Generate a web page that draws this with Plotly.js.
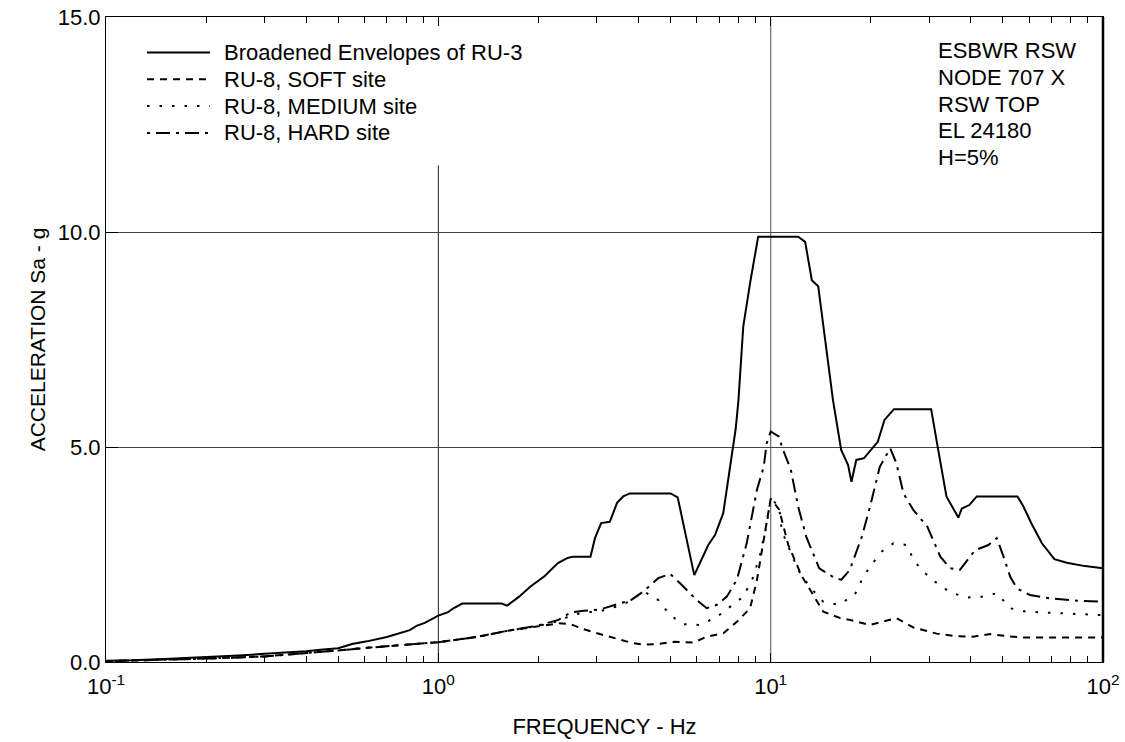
<!DOCTYPE html>
<html><head><meta charset="utf-8">
<script src="https://cdn.plot.ly/plotly-3.0.1.min.js"></script>
<style>html,body{margin:0;padding:0;background:#fff}#chart{width:1125px;height:742px}</style>
</head><body><div id="chart"></div>
<script>
// Series names
const seriesNames = ["Broadened Envelopes of RU-3", "RU-8, SOFT site", "RU-8, MEDIUM site", "RU-8, HARD site"];

// Broadened envelope of RU-3 (solid)
const ru3Freq = [0.1,0.12,0.15,0.2,0.25,0.3,0.35,0.4,0.45,0.5,0.55,0.61,0.7,0.78,0.82,0.86,0.91,1.0,1.07,1.11,1.18,1.55,1.61,1.75,1.89,2.09,2.29,2.45,2.54,2.87,2.96,3.09,3.28,3.45,3.6,3.77,5.0,5.25,5.89,6.49,6.8,7.2,7.5,7.85,8.0,8.27,8.67,9.17,12.1,12.7,13.3,13.9,15.4,16.3,17.1,17.5,18.1,19.1,21.0,22.0,23.5,30.4,31.8,33.8,36.7,37.6,39.6,41.7,55.3,57.5,60.9,65.5,71.4,77.8,88.3,100];
const ru3Acc = [0.03,0.04,0.07,0.11,0.15,0.19,0.22,0.25,0.29,0.32,0.42,0.48,0.58,0.68,0.74,0.84,0.91,1.08,1.16,1.25,1.36,1.36,1.31,1.52,1.75,2.00,2.30,2.42,2.45,2.45,2.88,3.23,3.26,3.70,3.85,3.92,3.92,3.83,2.02,2.72,2.95,3.46,4.43,5.43,6.09,7.80,8.81,9.89,9.89,9.77,8.88,8.74,6.09,4.93,4.58,4.19,4.70,4.74,5.12,5.63,5.88,5.88,5.01,3.85,3.36,3.57,3.65,3.85,3.85,3.63,3.22,2.76,2.39,2.31,2.23,2.18];

// RU-8 soft site (dashed)
const softFreq = [0.1,0.15,0.2,0.3,0.4,0.5,0.61,0.8,1.0,1.3,1.6,2.0,2.3,2.5,2.74,3.06,3.4,3.8,4.14,4.6,5.13,5.85,6.43,7.21,7.93,8.67,9.09,9.54,10.0,10.6,11.3,12.4,13.3,14.4,16.2,17.3,19.9,22.9,23.9,26.9,31.6,36.3,40.7,45.8,51.4,57.7,100];
const softAcc = [0.02,0.05,0.08,0.13,0.20,0.27,0.33,0.40,0.46,0.58,0.72,0.83,0.90,0.88,0.76,0.65,0.55,0.45,0.40,0.42,0.47,0.45,0.59,0.67,0.94,1.25,1.90,2.84,3.80,3.55,2.72,2.00,1.60,1.17,1.02,0.98,0.86,0.99,1.02,0.80,0.66,0.60,0.59,0.65,0.60,0.57,0.57];

// RU-8 medium site (dotted)
const medFreq = [0.1,0.15,0.2,0.3,0.4,0.5,0.61,0.8,1.0,1.3,1.6,2.0,2.3,2.5,2.74,3.06,3.4,3.8,4.14,4.59,4.98,5.46,6.13,6.89,7.55,8.28,8.87,9.29,9.73,10.0,10.6,10.8,12.1,13.1,14.4,16.0,17.9,18.8,19.9,21.6,23.4,25.7,26.9,28.8,31.2,34.7,38.9,43.7,47.9,52.6,59.0,69.3,82.9,100];
const medAcc = [0.02,0.05,0.08,0.13,0.20,0.27,0.33,0.40,0.46,0.58,0.72,0.84,0.95,1.08,1.15,1.18,1.28,1.42,1.65,1.44,1.09,0.88,0.86,1.05,1.29,1.52,1.98,2.50,3.20,3.80,3.62,3.05,2.14,1.75,1.40,1.33,1.56,1.91,2.22,2.57,2.76,2.72,2.37,2.10,1.87,1.62,1.50,1.52,1.60,1.25,1.17,1.15,1.12,1.09];

// RU-8 hard site (dash-dot)
const hardFreq = [0.1,0.15,0.2,0.3,0.4,0.5,0.61,0.8,1.0,1.3,1.6,2.0,2.3,2.5,2.74,3.06,3.4,3.8,4.14,4.59,4.98,5.34,5.99,6.42,6.89,7.38,7.91,8.47,9.09,9.53,9.73,10.0,10.6,10.8,11.5,12.1,12.8,14.0,15.4,16.3,17.3,18.8,19.9,21.3,22.9,23.9,25.1,26.9,28.5,29.6,32.4,34.7,37.1,41.2,45.2,47.9,50.2,52.6,55.1,60.3,69.3,82,100];
const hardAcc = [0.02,0.05,0.08,0.13,0.20,0.27,0.33,0.40,0.46,0.58,0.72,0.85,0.98,1.15,1.19,1.22,1.33,1.44,1.64,1.95,2.05,1.83,1.44,1.25,1.33,1.52,1.91,2.76,4.00,4.54,5.09,5.36,5.24,5.01,4.47,3.61,2.91,2.18,1.98,1.91,2.14,2.91,3.61,4.54,4.97,4.62,3.92,3.53,3.30,3.15,2.45,2.18,2.14,2.60,2.72,2.88,2.45,1.98,1.71,1.56,1.48,1.43,1.40];

// Axis ticks
const xTickVals = [0.1, 1, 10, 100];
const xTickText = ["10<sup>-1</sup>", "10<sup>0</sup>", "10<sup>1</sup>", "10<sup>2</sup>"];
const xMinorVals = [0.2,0.3,0.4,0.5,0.6,0.7,0.8,0.9,2,3,4,5,6,7,8,9,20,30,40,50,60,70,80,90];
const yTickVals = [0, 5, 10, 15];
const yTickText = ["0.0", "5.0", "10.0", "15.0"];

// Info block text
const infoLines = ["ESBWR RSW", "NODE 707 X", "RSW TOP", "EL 24180", "H=5%"];

const FONT = "Liberation Sans, Arial, Helvetica, sans-serif";
const dashes = ["solid", "7px,6px", "2.5px,10px", "3px,6px,14px,6px"];
const xs = [ru3Freq, softFreq, medFreq, hardFreq];
const ys = [ru3Acc, softAcc, medAcc, hardAcc];

// plot area in pixels (for paper conversions of decorations)
const PL = 106, PT = 17, PW = 997, PH = 645;
const px2x = p => (p - PL) / PW;
const py2y = p => (PT + PH - p) / PH;

const traces = seriesNames.map((n, i) => ({
  type: "scatter", mode: "lines", name: n, x: xs[i], y: ys[i],
  line: {color: "#000", width: 2, dash: dashes[i]},
  showlegend: false, hoverinfo: "skip"
}));

// Legend (drawn as decorations: sample line + label)
const legendRowY = i => 52.5 + i * 26.8;
const legendShapes = seriesNames.map((n, i) => ({
  type: "line", xref: "paper", yref: "paper",
  x0: px2x(147), x1: px2x(210), y0: py2y(legendRowY(i)), y1: py2y(legendRowY(i)),
  line: {color: "#000", width: 2, dash: dashes[i]}
}));
const legendLabels = seriesNames.map((n, i) => ({
  text: n, xref: "paper", yref: "paper", x: px2x(222), xanchor: "left",
  y: py2y(legendRowY(i)), yanchor: "middle", showarrow: false,
  font: {family: FONT, size: 22, color: "#000"}
}));

const infoAnn = infoLines.map((t, i) => ({
  text: t, xref: "paper", yref: "paper", x: px2x(936), xanchor: "left",
  y: py2y(50.5 + i * 26.75), yanchor: "middle", showarrow: false,
  font: {family: FONT, size: 22, color: "#000"}
}));

const layout = {
  width: 1125, height: 742,
  margin: {l: PL, r: 1125 - PL - PW, t: PT, b: 742 - PT - PH},
  paper_bgcolor: "#fff", plot_bgcolor: "#fff",
  font: {family: FONT, size: 22, color: "#000"},
  showlegend: false,
  xaxis: {
    type: "log", range: [-1, 2], showgrid: false, zeroline: false,
    tickmode: "array", tickvals: xTickVals, ticktext: xTickText,
    ticks: "inside", ticklen: 9, tickcolor: "#000", tickwidth: 1, ticklabelstandoff: 5,
    showline: true, linecolor: "#000", linewidth: 1, mirror: "allticks",
    tickfont: {family: FONT, size: 22, color: "#000"},
    minor: {tickmode: "array", tickvals: xMinorVals, ticks: "inside", ticklen: 6, tickcolor: "#000", showgrid: false},
    title: {text: "FREQUENCY - Hz", font: {family: FONT, size: 22, color: "#000"}, standoff: 20}
  },
  yaxis: {
    range: [0, 15], showgrid: true, gridcolor: "#444", gridwidth: 1, zeroline: false,
    tickmode: "array", tickvals: yTickVals, ticktext: yTickText,
    ticks: "inside", ticklen: 12, tickcolor: "#000",
    showline: true, linecolor: "#000", linewidth: 1, mirror: "allticks",
    tickfont: {family: FONT, size: 22, color: "#000"},
    title: {text: "ACCELERATION Sa - g", font: {family: FONT, size: 21, color: "#000"}, standoff: 6}
  },
  shapes: [
    {type: "line", xref: "x", yref: "y", x0: 1, x1: 1, y0: 0, y1: 11.55, line: {color: "#222", width: 1}, layer: "below"},
    {type: "line", xref: "x", yref: "y", x0: 10, x1: 10, y0: 0, y1: 15, line: {color: "#777", width: 1.3}, layer: "below"},
    {type: "line", xref: "paper", yref: "paper", x0: 1, x1: 1, y0: 0, y1: 1, line: {color: "#000", width: 2.5}}
  ].concat(legendShapes),
  annotations: legendLabels.concat(infoAnn)
};

Plotly.newPlot("chart", traces, layout, {displayModeBar: false, staticPlot: true});
</script></body></html>
